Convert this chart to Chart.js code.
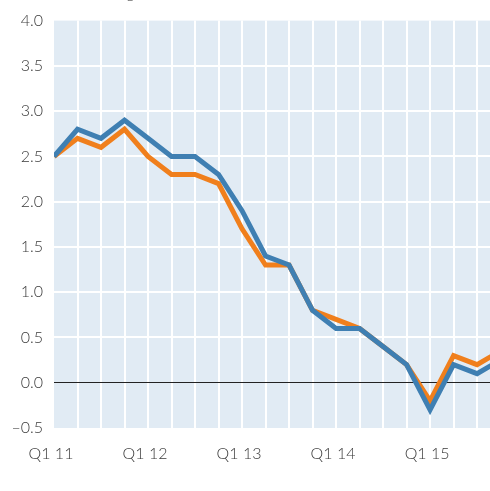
<!DOCTYPE html>
<html>
<head>
<meta charset="utf-8">
<script src="https://cdn.jsdelivr.net/npm/chart.js@4/dist/chart.umd.min.js"></script>
<style>
  html, body { margin: 0; padding: 0; background: #ffffff; overflow: hidden; }
  canvas { display: block; }
</style>
</head>
<body>
<canvas id="c" width="490" height="491" style="width:490px;height:491px;"></canvas>
<script>
const quarters = ['Q1 11','Q2 11','Q3 11','Q4 11','Q1 12','Q2 12','Q3 12','Q4 12','Q1 13','Q2 13','Q3 13','Q4 13','Q1 14','Q2 14','Q3 14','Q4 14','Q1 15','Q2 15','Q3 15','Q4 15'];
const blueSeries   = [2.5, 2.8, 2.7, 2.9, 2.7, 2.5, 2.5, 2.3, 1.9, 1.4, 1.3, 0.8, 0.6, 0.6, 0.4, 0.2, -0.3, 0.2, 0.1, 0.25];
const orangeSeries = [2.5, 2.7, 2.6, 2.8, 2.5, 2.3, 2.3, 2.2, 1.7, 1.3, 1.3, 0.8, 0.7, 0.6, 0.4, 0.2, -0.2, 0.3, 0.2, 0.35];
const yTicks = [-0.5, 0, 0.5, 1, 1.5, 2, 2.5, 3, 3.5, 4];
const unitLabel = '% change';
const visibleQuarters = 18.55; // the last quarter is cut off by the right edge

const FONT = 'Lato, "Open Sans", sans-serif';
const TEXT = '#3a3a3a';

const toPoints = (arr) => arr.map((v, i) => ({ x: i, y: v }));

const bgPlugin = {
  id: 'bg',
  beforeDraw(chart) {
    const a = chart.chartArea, ctx = chart.ctx;
    ctx.save();
    ctx.fillStyle = '#e1ebf4';
    ctx.fillRect(a.left, a.top, a.right - a.left, a.bottom - a.top);
    ctx.restore();
  },
  afterDraw(chart) {
    const ctx = chart.ctx;
    ctx.save();
    ctx.font = '300 15px ' + FONT;
    ctx.fillStyle = TEXT;
    ctx.textBaseline = 'alphabetic';
    ctx.textAlign = 'left';
    ctx.fillText(unitLabel, 80, -2);
    ctx.restore();
  }
};

new Chart(document.getElementById('c'), {
  type: 'line',
  data: {
    datasets: [
      { label: 'Blue', data: toPoints(blueSeries), borderColor: '#3f7fb2', borderWidth: 5, pointRadius: 0, tension: 0, fill: false },
      { label: 'Orange', data: toPoints(orangeSeries), borderColor: '#f07f1c', borderWidth: 5, pointRadius: 0, tension: 0, fill: false }
    ]
  },
  options: {
    responsive: false,
    animation: false,
    layout: { padding: { top: 20, right: 0, left: 0, bottom: 0 } },
    plugins: { legend: { display: false }, tooltip: { enabled: false } },
    scales: {
      x: {
        type: 'linear',
        min: 0,
        max: visibleQuarters,
        border: { display: false },
        afterBuildTicks(scale) {
          scale.ticks = quarters.map((q, i) => ({ value: i })).filter(t => t.value <= visibleQuarters);
        },
        grid: {
          color: (c) => (c.tick && c.tick.value === 0 ? 'rgba(0,0,0,0)' : '#ffffff'),
          lineWidth: 2,
          drawTicks: false
        },
        ticks: {
          autoSkip: false,
          maxRotation: 0,
          padding: 16,
          labelOffset: -3,
          color: TEXT,
          font: { family: FONT, size: 16, weight: '300' },
          callback: (v) => (v % 4 === 0 ? quarters[v] : '')
        },
        afterFit(scale) {
          scale.height = 63;
          scale.paddingRight = 0;
          scale.paddingLeft = 0;
        }
      },
      y: {
        min: -0.5,
        max: 4,
        border: { display: false },
        afterBuildTicks(scale) { scale.ticks = yTicks.map(v => ({ value: v })); },
        grid: {
          color: (c) => {
            const v = c.tick ? c.tick.value : null;
            if (v === 0) return '#222222';
            if (v === -0.5 || v === 4) return 'rgba(0,0,0,0)';
            return '#ffffff';
          },
          lineWidth: (c) => (c.tick && c.tick.value === 0 ? 1 : 2),
          drawTicks: false
        },
        ticks: {
          padding: 11,
          color: TEXT,
          font: { family: FONT, size: 16, weight: '300' },
          callback: (v) => (v < 0 ? '\u2013' + Math.abs(v).toFixed(1) : v.toFixed(1))
        },
        afterFit(scale) { scale.width = 54; }
      }
    }
  },
  plugins: [bgPlugin]
});
</script>
</body>
</html>
